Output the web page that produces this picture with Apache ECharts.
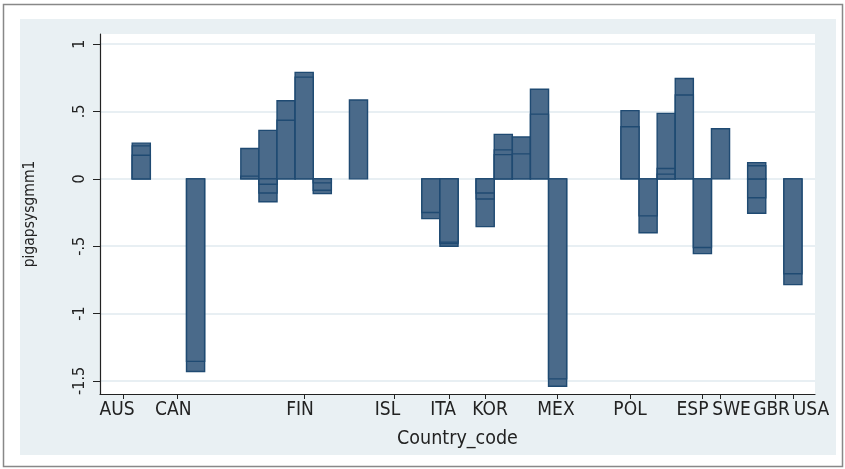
<!DOCTYPE html>
<html>
<head>
<meta charset="utf-8">
<script src="https://cdn.jsdelivr.net/npm/echarts@6/dist/echarts.min.js"></script>
<style>
html,body{margin:0;padding:0;background:#fff;}
#chart{width:845px;height:469px;}
</style>
</head>
<body>
<div id="chart"></div>
<script>
// ---- data ----
const countryNames = ['AUS','CAN','FIN','ISL','ITA','KOR','MEX','POL','ESP','SWE','GBR','USA'];
const countryTicks = [-1, 2, 9, 14, 17, 19, 23, 27, 31, 32, 35, 36];
const countryLabelPos = [-1.34, 1.77, 8.77, 13.6, 16.67, 19.27, 22.91, 27.0, 30.45, 32.61, 34.82, 37.03];
const barX = [0, 3, 6, 7, 8, 9, 10, 12, 16, 17, 19, 20, 21, 22, 23, 27, 28, 29, 30, 31, 32, 34, 36];
const barValues = [
  [0.265, 0.245, 0.175],
  [-1.43, -1.355],
  [0.225, 0.02],
  [0.36, -0.04, -0.105, -0.17],
  [0.58, 0.435],
  [0.79, 0.755],
  [-0.03, -0.085, -0.11],
  [0.585],
  [-0.25, -0.295],
  [-0.47, -0.48, -0.5],
  [-0.105, -0.15, -0.355],
  [0.33, 0.215, 0.18],
  [0.31, 0.185],
  [0.665, 0.48],
  [-1.485, -1.54],
  [0.506, 0.387],
  [-0.275, -0.4],
  [0.486, 0.077, 0.035],
  [0.745, 0.622],
  [-0.51, -0.555],
  [0.372],
  [0.12, 0.097, -0.14, -0.255],
  [-0.705, -0.785]
];
const yTicks = [-1.5, -1, -0.5, 0, 0.5, 1];

// ---- build ----
const points = [];
barX.forEach((x, i) => {
  const vals = barValues[i].slice().sort((a, b) => Math.abs(b) - Math.abs(a));
  vals.forEach(v => points.push([x, v]));
});

const FONT = "'DejaVu Sans Condensed', 'Liberation Sans', sans-serif";
const TXT = '#222';

const chart = echarts.init(document.getElementById('chart'), null, {renderer: 'canvas'});
chart.setOption({
  animation: false,
  backgroundColor: '#fff',
  graphic: [
    {type: 'rect', z: -100, silent: true, shape: {x: 3.5, y: 4.5, width: 839, height: 462},
      style: {fill: '#fff', stroke: '#888', lineWidth: 1.5}},
    {type: 'rect', z: -99, silent: true, shape: {x: 20, y: 19, width: 816, height: 436},
      style: {fill: '#e9f0f3'}}
  ],
  grid: {left: 100, right: 30, top: 34, bottom: 75, containLabel: false, outerBoundsMode: 'none',
    show: true, backgroundColor: '#fff', borderWidth: 0},
  xAxis: {
    type: 'value', min: -2.28, max: 37.22,
    name: 'Country_code', nameLocation: 'middle', nameGap: 35,
    nameTextStyle: {fontFamily: FONT, fontSize: 19.5, color: TXT},
    axisLine: {show: true, onZero: false, lineStyle: {color: '#222', width: 1.2}},
    axisTick: {show: true, length: 5, customValues: countryTicks, lineStyle: {color: '#222', width: 1}},
    axisLabel: {
      customValues: countryLabelPos, margin: 7,
      fontFamily: FONT, fontSize: 19, color: TXT,
      formatter: (v) => {
        let best = 0, d = Infinity;
        countryLabelPos.forEach((p, i) => { if (Math.abs(p - v) < d) { d = Math.abs(p - v); best = i; } });
        return countryNames[best];
      }
    },
    splitLine: {show: false}
  },
  yAxis: {
    type: 'value', min: -1.597, max: 1.075,
    name: 'pigapsysgmm1', nameLocation: 'middle', nameGap: 62, nameRotate: 90,
    nameTextStyle: {fontFamily: FONT, fontSize: 15.5, color: TXT},
    axisLine: {show: true, onZero: false, lineStyle: {color: '#222', width: 1.2}},
    axisTick: {show: true, length: 7, customValues: yTicks, lineStyle: {color: '#222', width: 1}},
    axisLabel: {
      customValues: yTicks, rotate: 90, margin: 12,
      fontFamily: FONT, fontSize: 16, color: TXT,
      formatter: (v) => v === 0 ? '0' : String(v).replace('0.', '.')
    },
    splitLine: {show: true, lineStyle: {color: '#e8eff3', width: 2}}
  },
  series: [{
    type: 'custom',
    data: points,
    renderItem: (params, api) => {
      const x = api.value(0), v = api.value(1);
      const a = api.coord([x - 0.5, v]);
      const b = api.coord([x + 0.5, 0]);
      return {
        type: 'rect',
        shape: {x: a[0], y: Math.min(a[1], b[1]), width: b[0] - a[0], height: Math.abs(b[1] - a[1])},
        style: {fill: '#4a6a8a', stroke: '#1f4a72', lineWidth: 1.4}
      };
    }
  }]
});
</script>
</body>
</html>
